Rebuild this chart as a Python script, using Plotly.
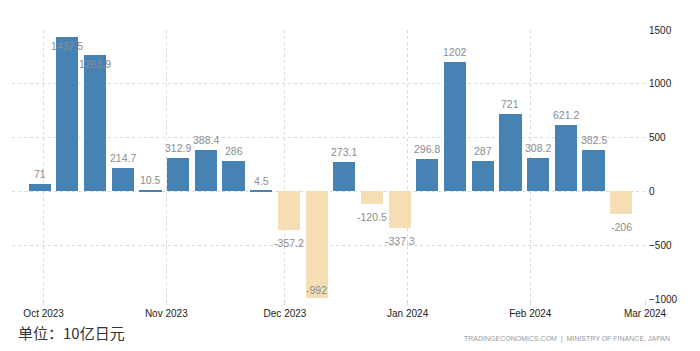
import plotly.graph_objects as go

weeks = ["2023-09-30", "2023-10-07", "2023-10-14", "2023-10-21", "2023-10-28",
         "2023-11-04", "2023-11-11", "2023-11-18", "2023-11-25", "2023-12-02",
         "2023-12-09", "2023-12-16", "2023-12-23", "2023-12-30", "2024-01-06",
         "2024-01-13", "2024-01-20", "2024-01-27", "2024-02-03", "2024-02-10",
         "2024-02-17", "2024-02-24"]
values = [71, 1437.5, 1263.9, 214.7, 10.5, 312.9, 388.4, 286, 4.5, -357.2,
          -992, 273.1, -120.5, -337.3, 296.8, 1202, 287, 721, 308.2, 621.2,
          382.5, -206]
tick_dates = ["2023-10-01", "2023-11-01", "2023-12-01", "2024-01-01", "2024-02-01", "2024-03-01"]
tick_labels = ["Oct 2023", "Nov 2023", "Dec 2023", "Jan 2024", "Feb 2024", "Mar 2024"]
y_ticks = [-1000, -500, 0, 500, 1000, 1500]

BLUE = "#4682b4"
WHEAT = "#f5deb3"
DAY_MS = 86400000

colors = [BLUE if v >= 0 else WHEAT for v in values]

fig = go.Figure()
fig.add_trace(go.Bar(
    x=weeks, y=values, marker=dict(color=colors, line=dict(width=0)),
    width=5.6 * DAY_MS, hoverinfo="x+y",
))

def fmt(v):
    return f"{v:g}"

annotations = []
for d, v in zip(weeks, values):
    if v >= 0:
        shift = -9 if v > 1250 else 10
    else:
        shift = 8 if v < -900 else -13
    annotations.append(dict(
        x=d, y=v, xref="x", yref="y", text=fmt(v), showarrow=False,
        yshift=shift, font=dict(size=10.5, color="#8c8c8c", family="Liberation Sans"),
        xanchor="center", yanchor="middle",
    ))

annotations.append(dict(
    x=0.0063, y=-0.126, xref="paper", yref="paper", text="单位：10亿日元",
    showarrow=False, xanchor="left", yanchor="middle",
    font=dict(size=15, color="#333333", family="Noto Sans CJK SC"),
))
annotations.append(dict(
    x=1.0427, y=-0.149, xref="paper", yref="paper",
    text="TRADINGECONOMICS.COM  |  MINISTRY OF FINANCE, JAPAN",
    showarrow=False, xanchor="right", yanchor="middle",
    font=dict(size=7, color="#999999", family="Liberation Sans"),
))

fig.update_layout(
    width=700, height=351,
    margin=dict(l=12, r=55, t=30, b=52),
    paper_bgcolor="white", plot_bgcolor="white",
    showlegend=False,
    bargap=0,
    annotations=annotations,
    font=dict(family="Liberation Sans", size=10, color="#222222"),
    xaxis=dict(
        type="date", range=["2023-09-23", "2024-03-01"],
        tickvals=tick_dates, ticktext=tick_labels,
        showgrid=True, gridcolor="#d9d9d9", griddash="dot", gridwidth=1,
        ticks="outside", ticklen=5, tickcolor="#d9d9d9",
        showline=False, zeroline=False,
        tickfont=dict(size=10, color="#222222"),
    ),
    yaxis=dict(
        range=[-1000, 1500], tickvals=y_ticks, side="right",
        showgrid=True, gridcolor="#d9d9d9", griddash="dot", gridwidth=1,
        zeroline=False, showline=False, ticks="",
        tickfont=dict(size=10, color="#222222"),
        ticklabelstandoff=3,
    ),
)

fig.write_html("out.html")
